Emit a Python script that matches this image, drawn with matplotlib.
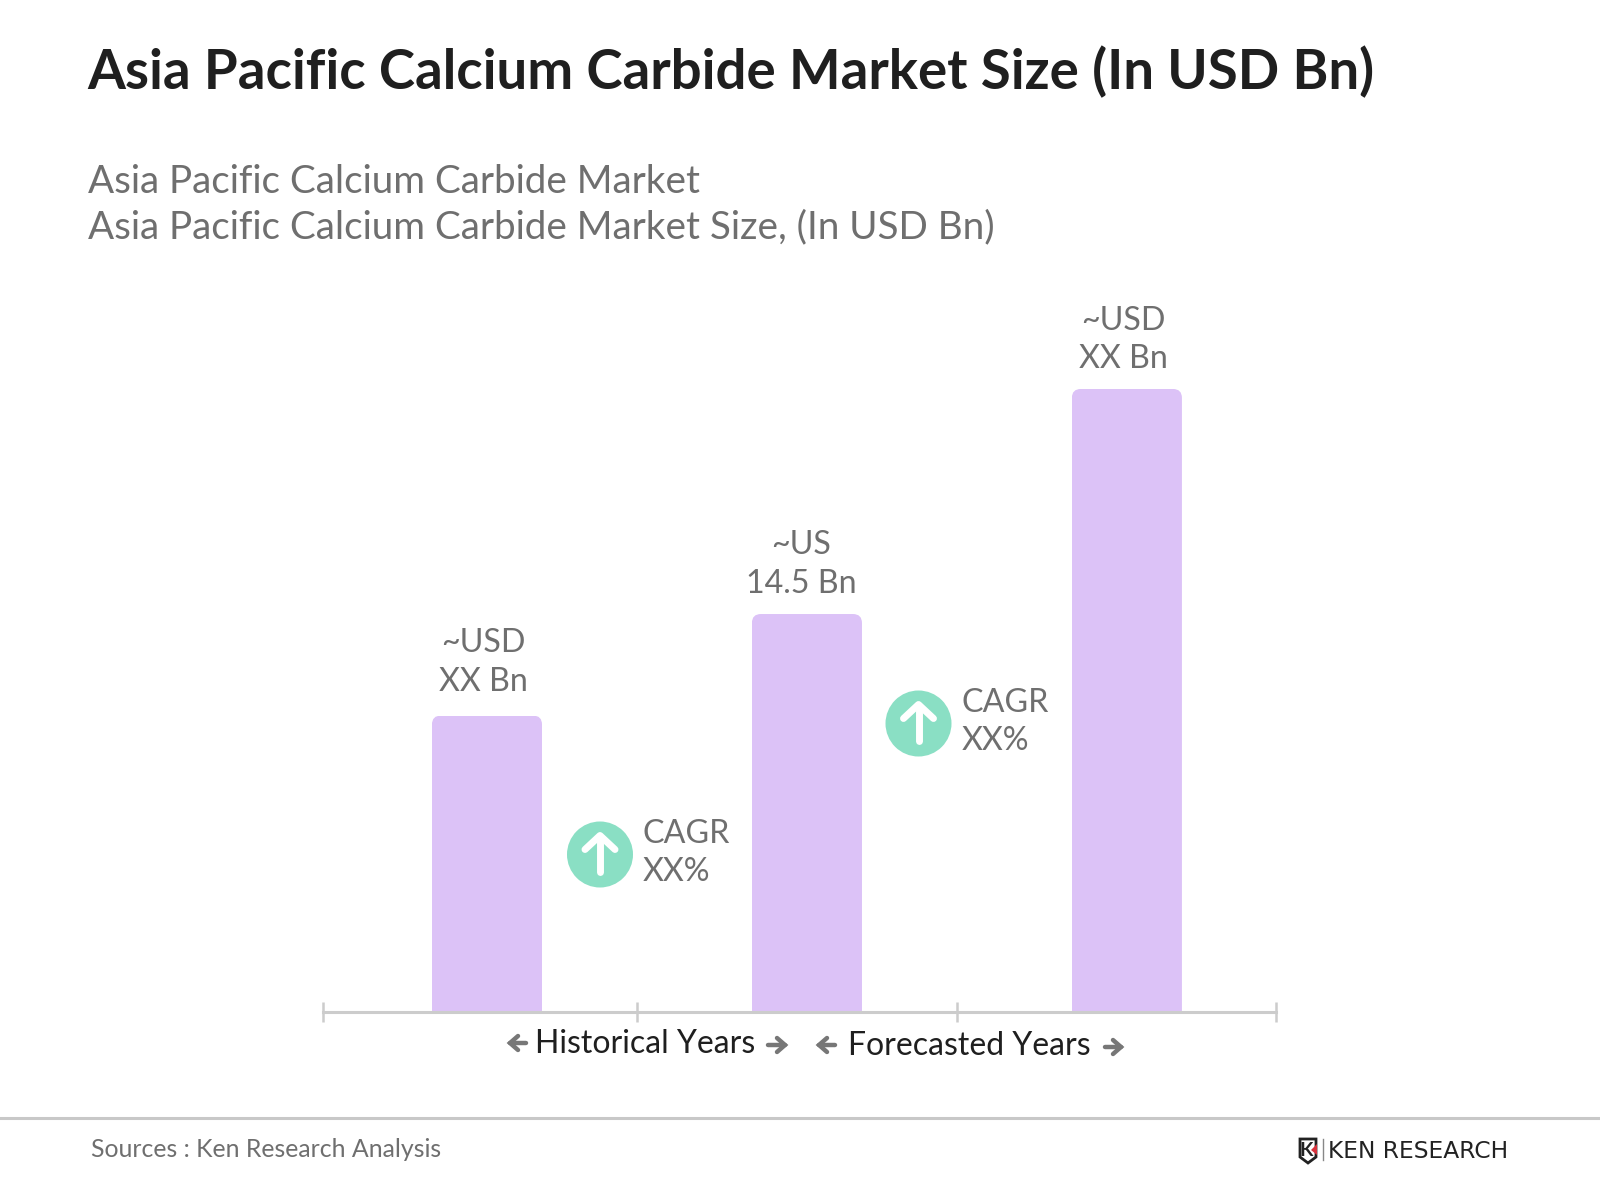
import matplotlib
matplotlib.use("Agg")
import matplotlib.pyplot as plt
from matplotlib.patches import Circle, FancyBboxPatch, Polygon

plt.rcParams["font.family"] = ["Lato", "DejaVu Sans"]

# values, only the middle one is labelled
bar_values = [10.8, 14.5, 22.7]
bar_labels = ["~USD\nXX Bn", "~US\n14.5 Bn", "~USD\nXX Bn"]
cagr_labels = ["CAGR\nXX%", "CAGR\nXX%"]
period_labels = ["Historical Years", "Forecasted Years"]
title = "Asia Pacific Calcium Carbide Market Size (In USD Bn)"
subtitle = "Asia Pacific Calcium Carbide Market\nAsia Pacific Calcium Carbide Market Size, (In USD Bn)"
source = "Sources : Ken Research Analysis"

GREY = "#6f6f6f"
DARK = "#1f1f1f"
LINE = "#cccccc"
PURPLE = "#dcc2f7"
GREEN = "#8adfc4"

fig = plt.figure(figsize=(16, 12), dpi=100, facecolor="white")

# chart axes, baseline sits at y=1012 px
ax = fig.add_axes([323 / 1600, (1200 - 1012) / 1200, 953 / 1600, 732 / 1200])
ax.patch.set_visible(False)
ax.set_xlim(-0.5125, 2.466)
ax.set_ylim(0, 26.67)
bars = ax.bar(range(3), bar_values, width=0.344, color=PURPLE, zorder=1)
for side in ("top", "left", "right"):
    ax.spines[side].set_visible(False)
ax.spines["bottom"].set_color(LINE)
ax.spines["bottom"].set_linewidth(2.2)
ax.set_yticks([])
ax.set_xticks([-0.5125, 0.4687, 1.47, 2.466])
ax.set_xticklabels([])
ax.tick_params(axis="x", direction="inout", length=14.5, width=1.8, color=LINE)

# overlay in pixel coordinates for everything around the bars
ov = fig.add_axes([0, 0, 1, 1])
ov.set_xlim(0, 1600)
ov.set_ylim(1200, 0)
ov.axis("off")
ov.patch.set_visible(False)

# round the top corners of the bars
for bar in bars:
    ext = bar.get_window_extent()
    px, pw = ext.x0, ext.width
    top = 1200 - ext.y1
    clip = FancyBboxPatch((px, top), pw, 1012 - top + 20, boxstyle="round,pad=0,rounding_size=9",
                          transform=ov.transData, fc="none", ec="none")
    ov.add_patch(clip)
    bar.set_clip_path(clip)

ov.text(87, 72, title, fontsize=39.35, fontweight="bold", color=DARK, va="center", ha="left")
ov.text(88, 204.5, subtitle, fontsize=27.85, color=GREY, va="center", ha="left", linespacing=1.32)

label_xy = [(483, 662.5), (801, 564.5), (1123.5, 340)]
for (x, y), lab in zip(label_xy, bar_labels):
    ov.text(x, y, lab, fontsize=23.2, color=GREY, ha="center", va="center", linespacing=1.36)

circles = [(600, 854.5), (918.5, 723.5)]
for (cx, cy), lab in zip(circles, cagr_labels):
    ov.add_patch(Circle((cx, cy), 33, fc=GREEN, ec="none"))
    ov.plot([cx, cx], [cy - 18, cy + 17], color="white", lw=5, solid_capstyle="round")
    ov.plot([cx - 15, cx, cx + 15], [cy - 5, cy - 19, cy - 5], color="white", lw=5,
            solid_capstyle="round", solid_joinstyle="round")
    ov.text(cx + 43, cy - 1.5, lab, fontsize=23.2, color=GREY, ha="left", va="center", linespacing=1.36)

ov.text(645.5, 1044, period_labels[0], fontsize=23, color=DARK, ha="center", va="center")
ov.text(969.5, 1046, period_labels[1], fontsize=23, color=DARK, ha="center", va="center")
arrows = [(526, 510, 1043), (768, 785, 1045), (835, 819, 1045), (1105, 1121, 1047)]
for x0, x1, y in arrows:
    back = x1 + (8 if x0 > x1 else -8)
    ov.plot([x0, x1], [y, y], color="#777777", lw=3.2, solid_capstyle="round")
    ov.plot([back, x1, back], [y - 7, y, y + 7], color="#777777", lw=3.2,
            solid_capstyle="round", solid_joinstyle="miter")

# footer
ov.plot([0, 1600], [1118, 1118], color="#c8c8c8", lw=2.2)
ov.text(91, 1149.5, source, fontsize=17.9, color=GREY, ha="left", va="center")

# logo
ov.add_patch(Polygon([(1300, 1139), (1316, 1139), (1316, 1157), (1308, 1163), (1300, 1157)],
                     closed=True, fc="white", ec="#222222", lw=2))
ov.text(1306.5, 1150, "K", fontsize=14, fontweight="bold", color="#222222", ha="center", va="center")
ov.add_patch(Polygon([(1317, 1144), (1317, 1155), (1311, 1150)], closed=True, fc="#d8323c", ec="none"))
ov.plot([1323, 1323], [1139, 1160], color="#888888", lw=1)
ov.text(1328, 1151, "KEN RESEARCH", fontsize=16.8, color="#222222", ha="left", va="center",
        family="DejaVu Sans")

fig.savefig("out.png", dpi=100, facecolor="white")
